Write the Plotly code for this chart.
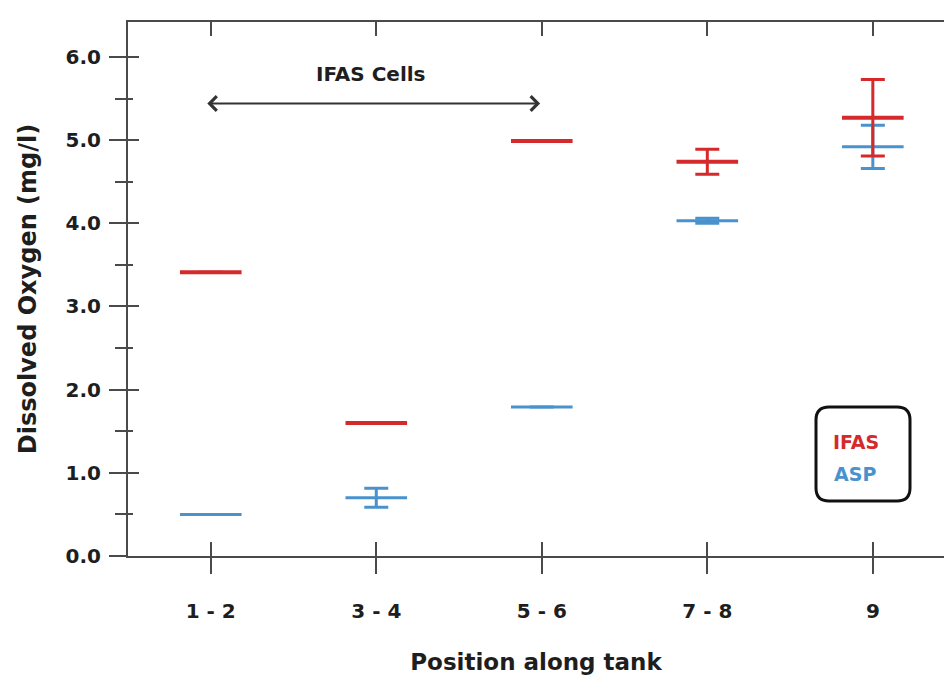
import plotly.graph_objects as go

# ---- data ----
positions = ["1 - 2", "3 - 4", "5 - 6", "7 - 8", "9"]
ifas_do = [3.41, 1.60, 4.99, 4.74, 5.27]
ifas_err = [0.0, 0.0, 0.0, 0.15, 0.46]
asp_do = [0.50, 0.70, 1.79, 4.03, 4.92]
asp_err = [0.0, 0.115, 0.0, 0.03, 0.26]
y_ticks = [0, 1, 2, 3, 4, 5, 6]

RED = "#d42a2c"
BLUE = "#4a92cd"
AX = "#4a4a4a"
TXT = "#1e1e1e"
FONT = "DejaVu Sans"

W, H = 944, 677
ML, MR, MT, MB = 128, 0, 22, 121
PW, PH = W - ML - MR, H - MT - MB

fig = go.Figure()

fig.add_trace(go.Scatter(
    x=positions, y=asp_do, mode="markers", name="ASP",
    marker=dict(symbol="line-ew", size=44, color=BLUE,
                line=dict(color=BLUE, width=3)),
    error_y=dict(type="data", array=asp_err, color=BLUE, thickness=3, width=12),
    showlegend=False,
))
fig.add_trace(go.Scatter(
    x=positions, y=ifas_do, mode="markers", name="IFAS",
    marker=dict(symbol="line-ew", size=44, color=RED,
                line=dict(color=RED, width=4)),
    error_y=dict(type="data", array=ifas_err, color=RED, thickness=3, width=12),
    showlegend=False,
))
# carrier trace for the overlay axes (inner halves of the crossing ticks)
fig.add_trace(go.Scatter(
    x=[positions[0]], y=[0], xaxis="x2", yaxis="y2", mode="markers",
    marker=dict(opacity=0), hoverinfo="skip", showlegend=False,
))

XR = [-0.5, 4.43]
YR = [0, 6.42]
tickfont = dict(family=FONT, size=20, color=TXT, weight="bold")

fig.update_layout(
    width=W, height=H,
    margin=dict(l=ML, r=MR, t=MT, b=MB),
    paper_bgcolor="white", plot_bgcolor="white",
    xaxis=dict(
        type="category", categoryorder="array", categoryarray=positions,
        range=XR, showgrid=False, zeroline=False,
        showline=True, linecolor=AX, linewidth=2, mirror=True,
        ticks="outside", ticklen=16, tickwidth=2, tickcolor=AX,
        tickfont=tickfont, ticklabelstandoff=20,
        title=dict(text="Position along tank", standoff=32,
                   font=dict(family=FONT, size=23, color=TXT, weight="bold")),
        automargin=True,
    ),
    xaxis2=dict(
        type="category", categoryorder="array", categoryarray=positions,
        overlaying="x", side="bottom", range=XR, showgrid=False, zeroline=False,
        showline=False, ticks="inside", ticklen=14, tickwidth=2, tickcolor=AX,
        mirror="ticks", showticklabels=False,
    ),
    yaxis=dict(
        range=YR, tickvals=y_ticks, tickformat=".1f", showgrid=False, zeroline=False,
        showline=True, linecolor=AX, linewidth=2,
        ticks="outside", ticklen=17, tickwidth=2, tickcolor=AX,
        minor=dict(dtick=0.5, ticks="outside", ticklen=11, tickwidth=2, tickcolor=AX),
        tickfont=tickfont, ticklabelstandoff=4,
        title=dict(text="Dissolved Oxygen (mg/l)", standoff=22,
                   font=dict(family=FONT, size=24, color=TXT, weight="bold")),
        automargin=True,
    ),
    yaxis2=dict(
        overlaying="y", side="left", range=YR, tickvals=y_ticks,
        showgrid=False, zeroline=False, showline=False, showticklabels=False,
        ticks="inside", ticklen=11, tickwidth=2, tickcolor=AX,
        minor=dict(dtick=0.5, ticks="inside", ticklen=5, tickwidth=2, tickcolor=AX),
    ),
)

# "IFAS Cells" double arrow spanning positions 1-2 .. 5-6
arrow_y = 5.44
arrow_x0, arrow_x1 = -0.03, 1.99
fig.add_annotation(
    x=arrow_x1, y=arrow_y, ax=arrow_x0, ay=arrow_y,
    xref="x", yref="y", axref="x", ayref="y", text="",
    showarrow=True, arrowhead=4, startarrowhead=4, arrowside="end+start",
    arrowsize=1.4, startarrowsize=1.4, arrowwidth=2, arrowcolor="#333333",
)
fig.add_annotation(
    x=0.97, y=5.79, xref="x", yref="y", text="IFAS Cells", showarrow=False,
    font=dict(family=FONT, size=20, color=TXT, weight="bold"),
)

# legend box (rounded) with coloured labels
def px(xp):
    return (xp - ML) / PW

def py(yp):
    return (H - MB - yp) / PH

def rounded_rect(x0, y0, x1, y1, r):
    pts = [
        f"M {px(x0 + r)} {py(y0)}", f"L {px(x1 - r)} {py(y0)}",
        f"Q {px(x1)} {py(y0)} {px(x1)} {py(y0 + r)}", f"L {px(x1)} {py(y1 - r)}",
        f"Q {px(x1)} {py(y1)} {px(x1 - r)} {py(y1)}", f"L {px(x0 + r)} {py(y1)}",
        f"Q {px(x0)} {py(y1)} {px(x0)} {py(y1 - r)}", f"L {px(x0)} {py(y0 + r)}",
        f"Q {px(x0)} {py(y0)} {px(x0 + r)} {py(y0)}", "Z",
    ]
    return " ".join(pts)

fig.add_shape(type="path", xref="paper", yref="paper",
              path=rounded_rect(816, 407, 910, 501, 13),
              line=dict(color="#111111", width=3), fillcolor="rgba(0,0,0,0)")
fig.add_annotation(x=px(831), y=py(442), xref="paper", yref="paper", text="IFAS",
                   xanchor="left", yanchor="middle", showarrow=False,
                   font=dict(family=FONT, size=19, color=RED, weight="bold"))
fig.add_annotation(x=px(832), y=py(474), xref="paper", yref="paper", text="ASP",
                   xanchor="left", yanchor="middle", showarrow=False,
                   font=dict(family=FONT, size=19, color=BLUE, weight="bold"))

fig.write_html("out.html")
